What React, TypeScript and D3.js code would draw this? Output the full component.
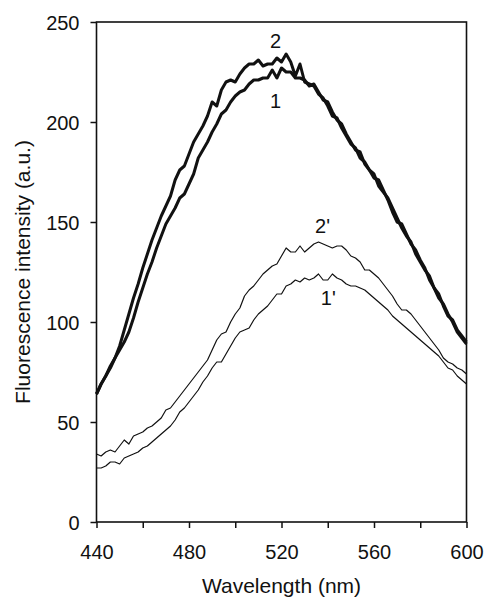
import React, { useEffect, useRef } from 'react';
import * as d3 from 'd3';

// Wavelength grid (nm), one reading every 2 nm
const wavelengths = d3.range(440, 601, 2);

// Thick curves (1 and 2)
const curve1 = [
  64, 69, 73, 78, 82, 86, 90, 95, 102, 110, 117, 124, 130, 137, 143, 149, 153, 157, 162, 164,
  169, 174, 182, 186, 190, 195, 199, 204, 206, 210, 213, 215, 216, 219, 221, 221, 222, 222, 226, 222,
  227, 225, 225, 222, 222, 221, 218, 219, 215, 211, 210, 205, 201, 199, 194, 190, 186, 185, 179, 176,
  174, 168, 165, 162, 157, 152, 147, 143, 140, 134, 130, 126, 123, 117, 112, 109, 104, 100, 95, 92, 89,
];
const curve2 = [
  64, 69, 73, 77, 82, 88, 96, 104, 112, 119, 127, 134, 141, 147, 153, 158, 163, 171, 176, 178,
  184, 190, 194, 198, 203, 210, 208, 216, 220, 221, 220, 224, 227, 229, 229, 231, 228, 229, 229, 232,
  230, 234, 230, 223, 229, 220, 219, 218, 214, 212, 208, 203, 202, 197, 193, 189, 187, 182, 180, 176,
  172, 171, 166, 161, 155, 150, 149, 144, 139, 136, 131, 127, 121, 117, 114, 108, 103, 101, 96, 93, 90,
];
// Thin curves (1' and 2')
const curve1p = [
  27, 27, 28, 30, 30, 29, 32, 33, 34, 35, 37, 38, 40, 42, 44, 46, 48, 51, 55, 57,
  60, 63, 66, 70, 73, 77, 80, 80, 84, 88, 92, 95, 96, 97, 101, 104, 106, 108, 111, 114,
  114, 118, 119, 121, 120, 122, 121, 122, 124, 121, 121, 124, 122, 121, 119, 118, 118, 117, 116, 114,
  112, 110, 108, 106, 103, 101, 99, 97, 95, 93, 91, 89, 87, 85, 83, 80, 77, 76, 73, 71, 69,
];
const curve2p = [
  34, 33, 35, 36, 35, 38, 41, 39, 43, 44, 45, 47, 48, 50, 52, 56, 57, 60, 63, 66,
  69, 72, 75, 78, 81, 86, 91, 94, 95, 100, 104, 107, 113, 116, 118, 121, 124, 126, 128, 129,
  133, 137, 135, 135, 138, 135, 137, 139, 140, 139, 138, 137, 138, 138, 136, 133, 132, 130, 126, 126,
  124, 122, 119, 116, 113, 109, 106, 106, 104, 101, 98, 95, 92, 89, 86, 82, 80, 79, 77, 76, 74,
];

const xTicks = d3.range(440, 601, 20);
const yTicks = [0, 50, 100, 150, 200, 250];

const seriesList = [
  { name: '1', values: curve1, width: 3 },
  { name: '2', values: curve2, width: 3 },
  { name: "1'", values: curve1p, width: 1.2 },
  { name: "2'", values: curve2p, width: 1.2 },
];

const curveLabels = [
  { text: '2', w: 515, v: 237 },
  { text: '1', w: 515, v: 207 },
  { text: "2'", w: 534.5, v: 144.5 },
  { text: "1'", w: 537, v: 108.5 },
];

const FONT = '"Liberation Sans", Arial, sans-serif';

const Chart: React.FC = () => {
  const svgRef = useRef<SVGSVGElement>(null);

  useEffect(() => {
    if (!svgRef.current) return;
    const svg = d3.select(svgRef.current);
    svg.selectAll('*').remove();

    const x = d3.scaleLinear().domain([440, 600]).range([96.5, 466.5]);
    const y = d3.scaleLinear().domain([0, 250]).range([522, 22]);

    // plot frame
    svg.append('rect')
      .attr('x', x(440))
      .attr('y', y(250))
      .attr('width', x(600) - x(440))
      .attr('height', y(0) - y(250))
      .attr('fill', 'none')
      .attr('stroke', '#111')
      .attr('stroke-width', 1.6);

    // x axis
    const xAxis = d3.axisBottom(x)
      .tickValues(xTicks)
      .tickSize(6)
      .tickPadding(17)
      .tickFormat(d => ((+d) % 40 === 0 ? String(d) : ''));
    const gx = svg.append('g')
      .attr('transform', `translate(0,${y(0)})`)
      .call(xAxis);
    gx.select('.domain').remove();
    gx.selectAll('line').attr('stroke', '#111').attr('stroke-width', 1.5);
    gx.selectAll('text')
      .attr('font-family', FONT)
      .attr('font-size', 20)
      .attr('fill', '#111');

    // y axis
    const yAxis = d3.axisLeft(y)
      .tickValues(yTicks)
      .tickSize(6)
      .tickPadding(11)
      .tickFormat(d => String(d));
    const gy = svg.append('g')
      .attr('transform', `translate(${x(440)},0)`)
      .call(yAxis);
    gy.select('.domain').remove();
    gy.selectAll('line').attr('stroke', '#111').attr('stroke-width', 1.5);
    gy.selectAll('text')
      .attr('font-family', FONT)
      .attr('font-size', 20)
      .attr('dy', '0.38em')
      .attr('fill', '#111');

    // curves
    const line = d3.line<number>()
      .x((_, i) => x(wavelengths[i]))
      .y(d => y(d));

    seriesList.forEach(s => {
      svg.append('path')
        .datum(s.values)
        .attr('d', line)
        .attr('fill', 'none')
        .attr('stroke', '#111')
        .attr('stroke-width', s.width)
        .attr('stroke-linejoin', 'round');
    });

    // curve labels
    curveLabels.forEach(l => {
      svg.append('text')
        .attr('x', x(l.w))
        .attr('y', y(l.v))
        .attr('font-family', FONT)
        .attr('font-size', 20)
        .attr('fill', '#111')
        .text(l.text);
    });

    // axis titles
    svg.append('text')
      .attr('x', (x(440) + x(600)) / 2)
      .attr('y', 593)
      .attr('text-anchor', 'middle')
      .attr('font-family', FONT)
      .attr('font-size', 21)
      .attr('fill', '#111')
      .text('Wavelength (nm)');

    svg.append('text')
      .attr('transform', `translate(30,${(y(0) + y(250)) / 2}) rotate(-90)`)
      .attr('text-anchor', 'middle')
      .attr('font-family', FONT)
      .attr('font-size', 21)
      .attr('fill', '#111')
      .text('Fluorescence intensity (a.u.)');
  }, []);

  return (
    <svg
      ref={svgRef}
      width={484}
      height={597}
      style={{ position: 'absolute', left: 0, top: 0, background: '#fff' }}
    />
  );
};

export default function App() {
  return <Chart />;
}
